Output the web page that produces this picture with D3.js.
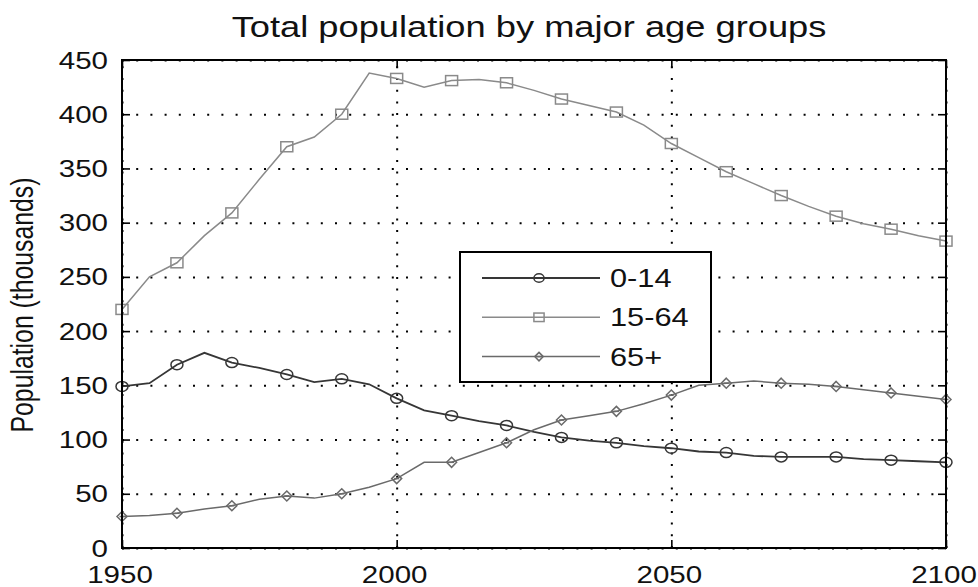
<!DOCTYPE html>
<meta charset="utf-8">
<style>
body { margin: 0; background: #fff; }
text { font-family: "Liberation Sans", Arial, sans-serif; fill: #111; }
</style>
<body>
<div id="chart"></div>
<script src="https://cdn.jsdelivr.net/npm/d3@7"></script>
<script>
// data, 5-year steps
var years = [1950, 1955, 1960, 1965, 1970, 1975, 1980, 1985, 1990, 1995,
             2000, 2005, 2010, 2015, 2020, 2025, 2030, 2035, 2040, 2045,
             2050, 2055, 2060, 2065, 2070, 2075, 2080, 2085, 2090, 2095, 2100];
var age0_14 = [149, 152, 169, 180, 171, 166, 160, 153, 156, 151,
               138, 127, 122, 117, 113, 107, 102, 99, 97, 94,
               92, 89, 88, 85, 84, 84, 84, 82, 81, 80, 79];
var age15_64 = [220, 250, 263, 288, 309, 340, 370, 379, 400, 438,
                433, 425, 431, 432, 429, 422, 414, 408, 402, 390,
                373, 360, 347, 336, 325, 315, 306, 299, 294, 288, 283];
var age65 = [29, 30, 32, 36, 39, 45, 48, 46, 50, 56,
             64, 79, 79, 88, 97, 109, 118, 122, 126, 133,
             141, 150, 152, 154, 152, 151, 149, 146, 143, 140, 137];
var seriesNames = ["0-14", "15-64", "65+"];
var xTicks = [1950, 2000, 2050, 2100];
var yTicks = [0, 50, 100, 150, 200, 250, 300, 350, 400, 450];
var titleText = "Total population by major age groups";
var yLabel = "Population (thousands)";

var width = 978, height = 587;
var margin = {top: 60, right: 32, bottom: 39, left: 122};
var w = width - margin.left - margin.right,
    h = height - margin.top - margin.bottom;
var sx = 1.23; // the original picture is stretched horizontally

var series = [
  {name: seriesNames[0], values: age0_14, color: "#363636", lw: 1.8, marker: "circle"},
  {name: seriesNames[1], values: age15_64, color: "#8a8a8a", lw: 1.5, marker: "square"},
  {name: seriesNames[2], values: age65, color: "#6a6a6a", lw: 1.5, marker: "diamond"}
];

var svg = d3.select("#chart").append("svg")
    .attr("width", width)
    .attr("height", height);

var g = svg.append("g")
    .attr("transform", "translate(" + margin.left + "," + margin.top + ")");

var x = d3.scaleLinear().domain([1950, 2100]).range([0, w]);
var y = d3.scaleLinear().domain([0, 450]).range([h, 0]);

// dotted grid
g.append("g")
    .call(d3.axisLeft(y).tickValues(yTicks).tickSize(-w).tickFormat(""))
    .call(function(s) {
      s.select(".domain").remove();
      s.selectAll("line").attr("stroke", "#000").attr("stroke-width", 2)
        .attr("stroke-dasharray", "2,12.2");
    });
g.append("g")
    .attr("transform", "translate(0," + h + ")")
    .call(d3.axisBottom(x).tickValues(xTicks).tickSize(-h).tickFormat(""))
    .call(function(s) {
      s.select(".domain").remove();
      s.selectAll("line").attr("stroke", "#000").attr("stroke-width", 2)
        .attr("stroke-dasharray", "2,9.7");
    });

// inward ticks on all four sides
function ticks(axis, tr) {
  g.append("g")
    .attr("transform", tr)
    .call(axis.tickSize(-8).tickFormat(""))
    .call(function(s) {
      s.select(".domain").remove();
      s.selectAll("line").attr("stroke", "#000").attr("stroke-width", 1.6);
    });
}
ticks(d3.axisLeft(y).tickValues(yTicks), "translate(0,0)");
ticks(d3.axisRight(y).tickValues(yTicks), "translate(" + w + ",0)");
ticks(d3.axisBottom(x).tickValues(xTicks), "translate(0," + h + ")");
ticks(d3.axisTop(x).tickValues(xTicks), "translate(0,0)");

// lines
var line = d3.line()
    .x(function(d, i) { return x(years[i]); })
    .y(function(d) { return y(d); });

function drawMarker(sel, type, color, size) {
  if (type === "circle") {
    sel.append("ellipse").attr("rx", 6 * size).attr("ry", 5 * size);
  } else if (type === "square") {
    sel.append("rect").attr("x", -6 * size).attr("y", -5 * size)
      .attr("width", 12 * size).attr("height", 10 * size);
  } else {
    var r = 5 * size;
    sel.append("path").attr("d", "M0," + (-r) + "L" + r + ",0L0," + r + "L" + (-r) + ",0Z");
    sel.append("path").attr("d", "M" + (-r * 0.5) + ",0H" + (r * 0.5));
  }
  sel.selectAll("*").attr("fill", "none").attr("stroke", color).attr("stroke-width", 1.5);
}

series.forEach(function(s) {
  g.append("path")
    .datum(s.values)
    .attr("fill", "none")
    .attr("stroke", s.color)
    .attr("stroke-width", s.lw)
    .attr("d", line);

  var pts = s.values.map(function(v, i) { return {year: years[i], v: v}; })
    .filter(function(d) { return d.year % 10 === 0; });

  g.selectAll(null)
    .data(pts)
    .enter()
    .append("g")
    .attr("transform", function(d) { return "translate(" + x(d.year) + "," + y(d.v) + ")"; })
    .each(function() { drawMarker(d3.select(this), s.marker, s.color, 1); });
});

// frame
g.append("rect")
    .attr("width", w).attr("height", h)
    .attr("fill", "none").attr("stroke", "#000").attr("stroke-width", 2);

// tick labels
function label(px, py, txt, size, anchor) {
  return svg.append("text")
    .attr("transform", "translate(" + px + "," + py + ") scale(" + sx + ",1)")
    .attr("text-anchor", anchor)
    .style("font-size", size + "px")
    .text(txt);
}
yTicks.forEach(function(t) {
  label(margin.left - 14, margin.top + y(t) + 8.5, t, 24, "end");
});
xTicks.forEach(function(t) {
  label(margin.left + x(t) - 2, height - 4, t, 24, "middle");
});

// title
label(margin.left + w / 2 - 5, 37, titleText, 29.5, "middle");

// y label
svg.append("text")
    .attr("transform", "translate(33," + (margin.top + h / 2 + 1) + ") scale(" + sx + ",1) rotate(-90)")
    .attr("text-anchor", "middle")
    .style("font-size", "24.8px")
    .text(yLabel);

// legend
var legend = svg.append("g").attr("transform", "translate(460,252)");
legend.append("rect")
    .attr("width", 251).attr("height", 130)
    .attr("fill", "#fff").attr("stroke", "#000").attr("stroke-width", 2);

series.forEach(function(s, i) {
  var ly = 26 + i * 39.3;
  legend.append("line")
    .attr("x1", 22).attr("x2", 140)
    .attr("y1", ly).attr("y2", ly)
    .attr("stroke", s.color).attr("stroke-width", s.lw);
  var m = legend.append("g").attr("transform", "translate(79," + ly + ")");
  drawMarker(m, s.marker, s.color, 0.85);
  legend.append("text")
    .attr("transform", "translate(150," + (ly + 9) + ") scale(" + sx + ",1)")
    .style("font-size", "25px")
    .text(s.name);
});
</script>
</body>
